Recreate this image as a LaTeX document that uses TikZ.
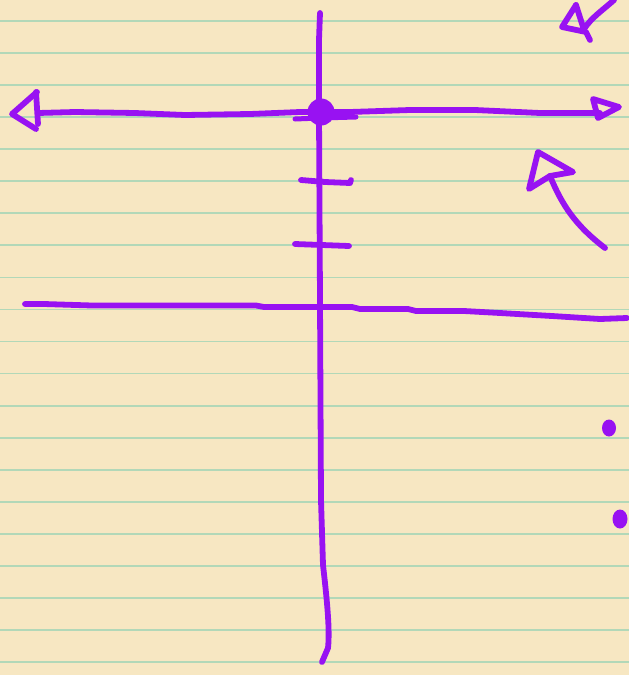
\documentclass[tikz,border=0pt]{standalone}
\usepackage{tikz}

\definecolor{paper}{RGB}{247,231,194}
\definecolor{rule}{RGB}{178,216,184}
\definecolor{ink}{RGB}{152,18,242}

\begin{document}
\begin{tikzpicture}[x=1pt, y=-1pt, line width=5.8pt, line cap=round, line join=round]

  %% ════ paper ════
  \fill[paper] (0,0) rectangle (629,675);
  \foreach \k in {0,...,20}
    \draw[rule, line width=1.8pt, line cap=butt] (0,21+32.05*\k) -- (629,21+32.05*\k);

  \begin{scope}[draw=ink, fill=ink]
  %% ════ vertical axis ════
  \draw (320,13) -- (319,40) -- (319,113) -- (320,300) -- (321,500)
        -- (323,565) .. controls (327,600) and (330,630) .. (328,648) -- (322,662);

  %% ════ horizontal axis + arrows ════
  \draw (38,113) -- (75,112) -- (135,113) -- (185,115) -- (250,114) -- (300,112)
        -- (350,112) -- (410,110) -- (475,110) -- (540,113) -- (600,113);
  \draw (37,92) -- (12,114) -- (36,129);
  \draw (36,92) -- (38,124);
  \draw (593,99) -- (619,107) -- (598,118) -- cycle;

  %% origin dot and short stroke under it
  \fill (321,112) circle (13.5);
  \draw[line width=5pt] (295,119) -- (320,118) -- (356,117);

  %% ════ ticks ════
  \draw (301,180) -- (325,182) -- (350,183) -- (351,180);
  \draw (295,244) -- (349,246);

  %% ════ second horizontal line ════
  \draw (25,304) -- (44,304) -- (92,305.5) -- (256,305.5) -- (264,307) -- (352,307)
        -- (360,309) -- (408,309) -- (416,311) -- (464,311) -- (500,313)
        -- (552,316) -- (600,319) -- (627,318);

  %% ════ arrow, top right ════
  \draw (576,5) -- (562,27) -- (586,32) -- (590,40);
  \draw (576,5) -- (584,30);
  \draw (584,29) .. controls (592,17) and (603,10) .. (614,0);

  %% ════ arrow, right ════
  \draw (538,152) -- (529,189) -- (550,176) -- (573,172) -- cycle;
  \draw (550,176) .. controls (562,205) and (575,225) .. (605,248);

  %% ════ dots ════
  \fill (609,428) ellipse (7 and 8.5);
  \fill (620,519) ellipse (7.5 and 9.5);
  \end{scope}

  \pgfresetboundingbox
  \path[use as bounding box] (0,0) rectangle (629,675);
\end{tikzpicture}
\end{document}
